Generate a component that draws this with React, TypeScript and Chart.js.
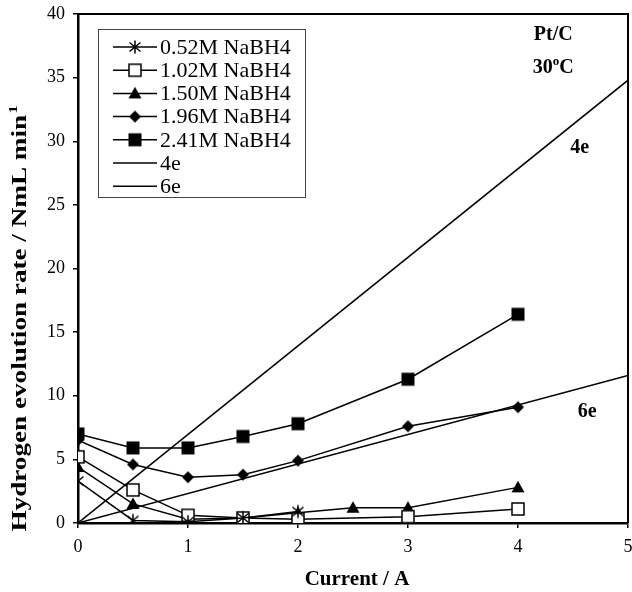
import React, { useEffect, useRef } from 'react';
import { Chart, registerables } from 'chart.js';

Chart.register(...registerables);

// ---- data ----
const currentCommon = [0, 0.5, 1, 1.5, 2, 3, 4];
const current052 = [0, 0.5, 1, 1.5, 2];
const current150 = [0, 0.5, 1, 1.5, 2, 2.5, 3, 4];
const rate052 = [3.3, 0.2, 0.1, 0.4, 0.9];
const rate102 = [5.2, 2.6, 0.6, 0.4, 0.3, 0.5, 1.1];
const rate150 = [4.4, 1.5, 0.3, 0.4, 0.8, 1.2, 1.2, 2.8];
const rate196 = [6.5, 4.6, 3.6, 3.8, 4.9, 7.6, 9.1];
const rate241 = [7.0, 5.9, 5.9, 6.8, 7.8, 11.3, 16.4];
const theoryCurrent = [0, 5];
const rate4e = [0, 34.8];
const rate6e = [0, 11.6];
const seriesLabels = ['0.52M NaBH4', '1.02M NaBH4', '1.50M NaBH4', '1.96M NaBH4', '2.41M NaBH4', '4e', '6e'];
const xTickMin = 0, xTickMax = 5, xTickStep = 1;
const yTickMin = 0, yTickMax = 40, yTickStep = 5;
const xTitle = 'Current / A';
const yTitleMain = 'Hydrogen evolution rate / NmL min';
const yTitleSup = '1';

const SERIF = "'Liberation Serif', 'Times New Roman', serif";

function pts(xs: number[], ys: number[]) {
  return xs.map((x, i) => ({ x, y: ys[i] }));
}

function makeMarker(kind: string): HTMLCanvasElement {
  const c = document.createElement('canvas');
  c.width = 18; c.height = 18;
  const g = c.getContext('2d')!;
  g.strokeStyle = '#000'; g.fillStyle = '#000'; g.lineWidth = 1.5;
  if (kind === 'asterisk') {
    g.beginPath();
    g.moveTo(9, 2.5); g.lineTo(9, 15.5);
    g.moveTo(3.5, 4.5); g.lineTo(14.5, 13.5);
    g.moveTo(14.5, 4.5); g.lineTo(3.5, 13.5);
    g.stroke();
  } else if (kind === 'openSquare') {
    g.fillStyle = '#fff';
    g.fillRect(3, 3, 12, 12);
    g.strokeRect(3, 3, 12, 12);
  } else if (kind === 'triangle') {
    g.beginPath(); g.moveTo(9, 2.5); g.lineTo(15.5, 14); g.lineTo(2.5, 14); g.closePath(); g.fill();
  } else if (kind === 'diamond') {
    g.beginPath(); g.moveTo(9, 3); g.lineTo(15, 9); g.lineTo(9, 15); g.lineTo(3, 9); g.closePath(); g.fill();
  } else if (kind === 'square') {
    g.fillRect(2.5, 2.5, 13, 13);
  }
  return c;
}

export default function App() {
  const ref = useRef<HTMLCanvasElement>(null);
  useEffect(() => {
    const markers = ['asterisk', 'openSquare', 'triangle', 'diamond', 'square'].map(makeMarker);
    const seriesX = [current052, currentCommon, current150, currentCommon, currentCommon];
    const seriesY = [rate052, rate102, rate150, rate196, rate241];
    const datasets: any[] = seriesY.map((ys, i) => ({
      label: seriesLabels[i],
      data: pts(seriesX[i], ys),
      showLine: true,
      borderColor: '#000',
      borderWidth: 1.5,
      pointStyle: markers[i],
      pointRadius: 7,
      backgroundColor: '#000',
    }));
    datasets.push({ label: seriesLabels[5], data: pts(theoryCurrent, rate4e), showLine: true, borderColor: '#000', borderWidth: 1.5, pointRadius: 0 });
    datasets.push({ label: seriesLabels[6], data: pts(theoryCurrent, rate6e), showLine: true, borderColor: '#000', borderWidth: 1.5, pointRadius: 0 });

    const overlay = {
      id: 'overlay',
      afterDatasetsDraw(chart: any) {
        const { ctx, chartArea: a, scales } = chart;
        const xs = scales.x, ys = scales.y;
        ctx.save();
        // frame top/right
        ctx.strokeStyle = '#000'; ctx.lineWidth = 2;
        ctx.beginPath(); ctx.moveTo(a.left, a.top); ctx.lineTo(a.right, a.top); ctx.lineTo(a.right, a.bottom); ctx.stroke();

        // annotations
        ctx.fillStyle = '#000';
        ctx.textAlign = 'center'; ctx.textBaseline = 'middle';
        ctx.font = `bold 20px ${SERIF}`;
        ctx.fillText('Pt/C', xs.getPixelForValue(4.32), ys.getPixelForValue(38.4));
        {
          const cx = xs.getPixelForValue(4.32), cy = ys.getPixelForValue(35.8);
          const w1 = ctx.measureText('30').width;
          ctx.font = `bold 13px ${SERIF}`;
          const w2 = ctx.measureText('o').width;
          ctx.font = `bold 20px ${SERIF}`;
          const w3 = ctx.measureText('C').width;
          let x0 = cx - (w1 + w2 + w3) / 2;
          ctx.textAlign = 'left';
          ctx.fillText('30', x0, cy);
          ctx.font = `bold 13px ${SERIF}`;
          ctx.fillText('o', x0 + w1, cy - 6);
          ctx.font = `bold 20px ${SERIF}`;
          ctx.fillText('C', x0 + w1 + w2, cy);
          ctx.textAlign = 'center';
        }
        ctx.fillText('4e', xs.getPixelForValue(4.56), ys.getPixelForValue(29.5));
        ctx.fillText('6e', xs.getPixelForValue(4.63), ys.getPixelForValue(8.7));

        // legend
        const lx = a.left + 20, ly = a.top + 15, lw = 207, lh = 168;
        ctx.fillStyle = '#fff';
        ctx.fillRect(lx, ly, lw, lh);
        ctx.strokeStyle = '#444'; ctx.lineWidth = 1;
        ctx.strokeRect(lx + 0.5, ly + 0.5, lw, lh);
        ctx.font = `22px ${SERIF}`;
        ctx.textAlign = 'left'; ctx.textBaseline = 'middle';
        seriesLabels.forEach((lab, i) => {
          const cy = ly + 18 + i * 23.2;
          ctx.strokeStyle = '#000'; ctx.lineWidth = 1.5;
          ctx.beginPath(); ctx.moveTo(lx + 15, cy); ctx.lineTo(lx + 59, cy); ctx.stroke();
          if (i < markers.length) {
            const m = markers[i];
            ctx.drawImage(m, lx + 37 - m.width / 2, cy - m.height / 2);
          }
          ctx.fillStyle = '#000';
          ctx.fillText(lab, lx + 62, cy + 1);
        });

        // x title
        ctx.font = `bold 21px ${SERIF}`;
        ctx.textAlign = 'center'; ctx.textBaseline = 'middle';
        ctx.fillText(xTitle, (a.left + a.right) / 2 + 4, 580);

        // y title
        ctx.save();
        ctx.translate(21, 319);
        ctx.rotate(-Math.PI / 2);
        ctx.font = `bold 21px ${SERIF}`;
        const wm = ctx.measureText(yTitleMain).width;
        ctx.font = `bold 13px ${SERIF}`;
        const ws = ctx.measureText(yTitleSup).width;
        const total = wm + ws;
        const k = 425 / total;
        ctx.scale(k, 1);
        ctx.textAlign = 'left'; ctx.textBaseline = 'middle';
        ctx.font = `bold 21px ${SERIF}`;
        ctx.fillText(yTitleMain, -total / 2, 0);
        ctx.font = `bold 13px ${SERIF}`;
        ctx.fillText(yTitleSup, -total / 2 + wm + 1, -7);
        ctx.restore();

        ctx.restore();
      },
    };

    const zeroPad = (s: any) => { s.paddingLeft = 0; s.paddingRight = 0; s.paddingTop = 0; s.paddingBottom = 0; };

    const chart = new Chart(ref.current!, {
      type: 'scatter',
      data: { datasets },
      options: {
        responsive: false,
        animation: false,
        layout: { autoPadding: false, padding: { top: 14, right: 4, left: 0, bottom: 0 } },
        plugins: { legend: { display: false }, tooltip: { enabled: false } },
        scales: {
          x: {
            type: 'linear', min: xTickMin, max: xTickMax,
            ticks: { stepSize: xTickStep, color: '#000', font: { family: SERIF, size: 18 }, padding: 8 },
            grid: { drawOnChartArea: false, drawTicks: true, tickLength: 5, color: '#000', lineWidth: 1.5 },
            border: { color: '#000', width: 2.5 },
            afterFit: (s: any) => { s.height = 69; zeroPad(s); },
          },
          y: {
            type: 'linear', min: yTickMin, max: yTickMax,
            ticks: { stepSize: yTickStep, color: '#000', font: { family: SERIF, size: 18 }, padding: 8 },
            grid: { drawOnChartArea: false, drawTicks: true, tickLength: 5, color: '#000', lineWidth: 1.5 },
            border: { color: '#000', width: 2.5 },
            afterFit: (s: any) => { s.width = 78; zeroPad(s); },
          },
        },
      },
      plugins: [overlay],
    });
    return () => chart.destroy();
  }, []);
  return (
    <div style={{ position: 'fixed', left: 0, top: 0, width: 632, height: 592, background: '#fff' }}>
      <canvas ref={ref} width={632} height={592} />
    </div>
  );
}
